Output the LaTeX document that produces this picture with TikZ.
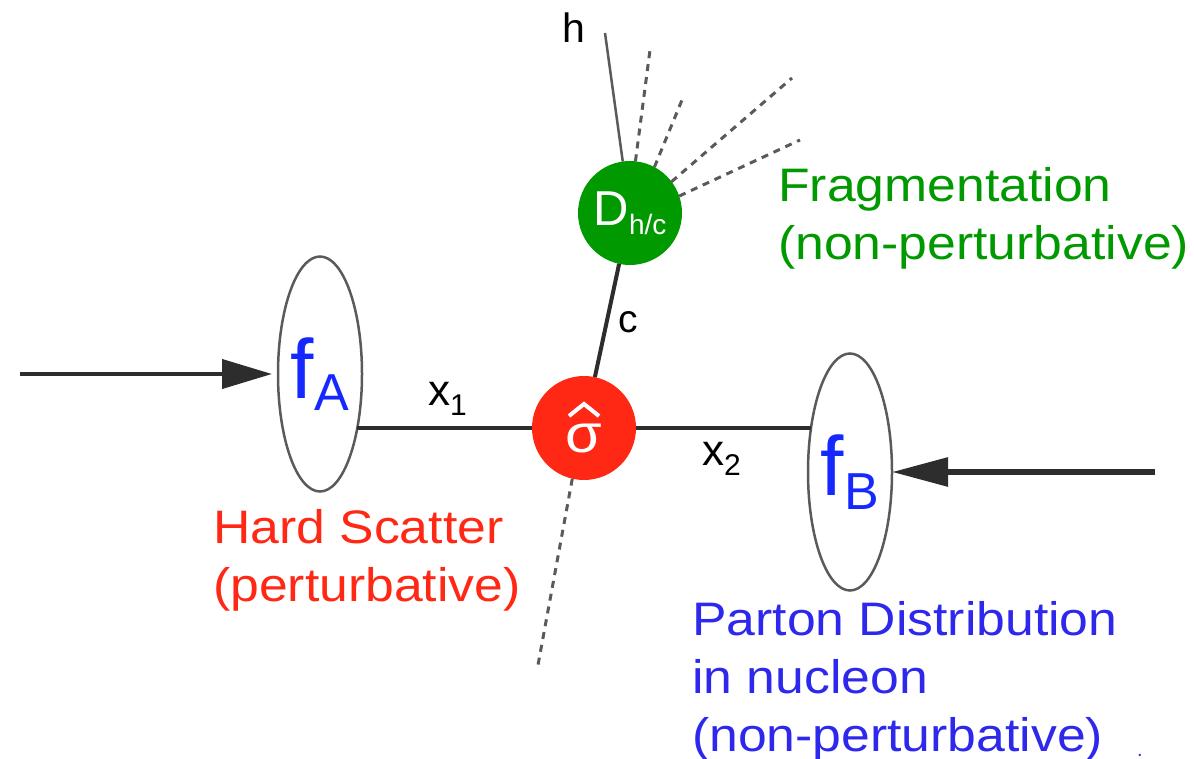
\documentclass[tikz,border=0pt]{standalone}
\usepackage{fontspec}
\setmainfont{Liberation Sans}
\newfontfamily\wide[FakeStretch=1.1]{Liberation Sans}
\usetikzlibrary{arrows.meta,shapes.geometric}
\definecolor{hsred}{RGB}{255,40,20}
\definecolor{frgreen}{RGB}{0,153,0}
\definecolor{pdblue}{RGB}{45,40,235}
\definecolor{fblue}{RGB}{20,40,255}
\definecolor{linegray}{RGB}{45,45,45}
\definecolor{thingray}{RGB}{90,90,90}
\begin{document}
\begin{tikzpicture}[x=1pt,y=-1pt,
  pdf/.style={ellipse, draw=thingray, line width=2.5pt, minimum width=84pt, inner sep=0pt, outer sep=0pt, text=fblue, font=\fontsize{84}{84}\selectfont},
  blob/.style={circle, minimum size=104pt, inner sep=0pt, outer sep=0pt},
  parton/.style={draw=linegray, line width=4pt},
  jet/.style={draw=thingray, line width=3pt, dash pattern=on 7pt off 6pt},
  caption/.style={anchor=base west, inner sep=0pt, align=left, font=\wide\fontsize{47}{58}\selectfont},
  sym/.style={anchor=base west, inner sep=0pt, font=\fontsize{44}{44}\selectfont},
  beam/.style={draw=linegray}
]
\useasboundingbox (0,0) rectangle (1194,759);

% nodes
\node[pdf, minimum height=235pt] (fA) at (320,374) {f\raisebox{-12pt}{\fontsize{52}{52}\selectfont A}};
\node[pdf, minimum height=237pt] (fB) at (850,472) {f\raisebox{-14pt}{\fontsize{52}{52}\selectfont B}};
\node[blob, fill=hsred] (sig) at (584,428) {};
\node[anchor=base, inner sep=0pt, text=white, font=\wide\fontsize{54}{54}\selectfont] (sigtxt) at (584,452) {σ};
\draw[white, line width=4pt] ([shift={(-15,-12)}]sig.center) -- ([shift={(0,-24)}]sig.center) -- ([shift={(15,-12)}]sig.center);
\node[blob, fill=frgreen, text=white, font=\fontsize{49}{49}\selectfont] (D) at (630,213) {D\raisebox{-9pt}{\fontsize{28}{28}\selectfont h/c}};

% free ends
\coordinate (hend) at (605,33);
\coordinate (j1) at (650,50);
\coordinate (j2) at (682,100);
\coordinate (j3) at (792,78);
\coordinate (j4) at (800,140);
\coordinate (j5) at (538,665);
\coordinate (beamA) at (20,374);
\coordinate (beamB) at (1155,472);

% partons
\draw[parton] (sig.west) -- (sig.west -| fA.-55.4);
\draw[parton] (sig.east) -- (sig.east -| fB.131.6);
\draw[parton] (sig) -- (D);
\draw[draw=thingray, line width=2.5pt] (D.98) -- (hend);
\draw[jet] (D.84) -- (j1);
\draw[jet] (D.62) -- (j2);
\draw[jet] (D.37) -- (j3);
\draw[jet] (D.19) -- (j4);
\draw[jet] (sig.-103) -- (j5);

% beams
\draw[beam, line width=4pt, -{Triangle[length=50pt,width=29pt]}, shorten >=6pt] (beamA) -- (fA.west);
\draw[beam, line width=6pt, -{Triangle[length=56pt,width=28pt]}] (beamB) -- (fB.east);

% labels
\node[sym] (x1) at (428,405) {x\raisebox{-10pt}{\fontsize{30}{30}\selectfont 1}};
\node[sym] (x2) at (702,465) {x\raisebox{-10pt}{\fontsize{30}{30}\selectfont 2}};
\node[sym, font=\fontsize{39}{39}\selectfont] (c) at (618,332) {c};
\node[sym, font=\fontsize{41}{41}\selectfont] (h) at (562,43) {h};

\node[caption, text=hsred] (hs) at (213,601) {Hard Scatter\\(perturbative)};
\node[caption, text=frgreen] (frag) at (778,260) {Fragmentation\\(non-perturbative)};
\node[caption, text=pdblue] (pd) at (692,751) {Parton Distribution\\in nucleon\\(non-perturbative)};
\node[anchor=base, inner sep=0pt, text=pdblue, font=\fontsize{20}{20}\selectfont] (dot) at (1140,756) {.};
\end{tikzpicture}
\end{document}
